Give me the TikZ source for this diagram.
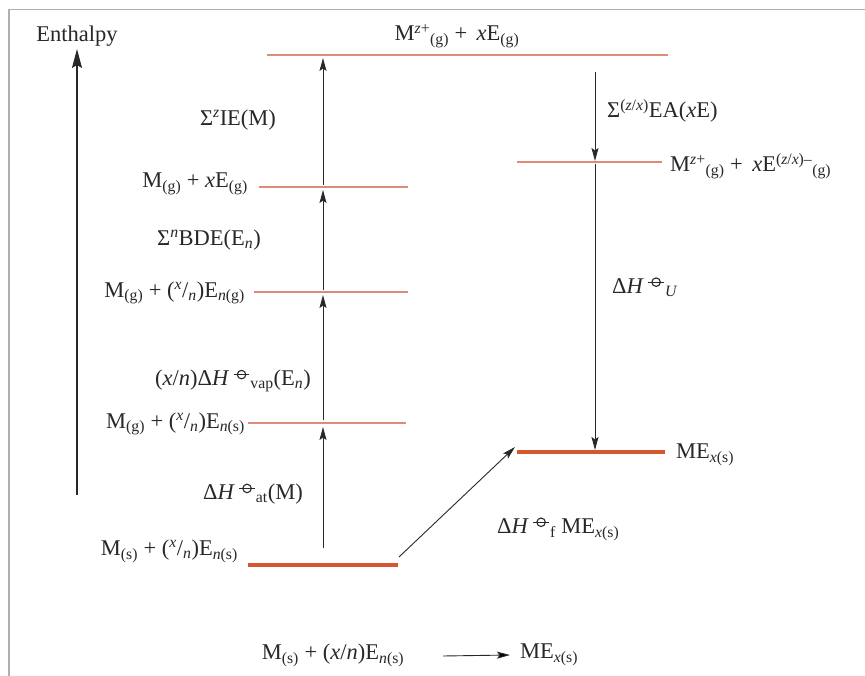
\documentclass[tikz,border=0pt]{standalone}
\usepackage{fontspec}
\setmainfont{Liberation Serif}
\usetikzlibrary{arrows.meta}
\definecolor{lvlthin}{RGB}{222,140,120}
\definecolor{lvlthick}{RGB}{214,86,48}
\definecolor{ink}{RGB}{40,40,40}
\definecolor{framegray}{RGB}{175,175,175}
\newcommand{\mysup}[1]{\textsuperscript{#1}}
\newcommand{\mysub}[1]{\textsubscript{#1}}
\newcommand{\plim}{\tikz[baseline=-0.5ex,line width=0.07em]{\draw (0,0) circle (0.27em); \draw (-0.5em,0)--(0.5em,0);}}
\tikzset{
  lbl/.style={text=ink, inner sep=1pt, font=\fontsize{22.5}{26}\selectfont},
  lvl/.style={draw=lvlthin, line width=1.4pt},
  lvlbar/.style={draw=lvlthick, line width=4.5pt},
  arr/.style={draw=ink, line width=0.9pt, -{Stealth[length=13pt,width=7pt,inset=2.5pt]}},
  bigarr/.style={draw=ink, line width=1.1pt, -{Stealth[length=19pt,width=10pt,inset=3pt]}}
}
\begin{document}
\begin{tikzpicture}[x=1pt,y=-1pt]
\useasboundingbox (0,0) rectangle (865,676);
\fill[white] (0,0) rectangle (865,676);
% frame
\draw[framegray, line width=1.5pt] (865,9.5) -- (9,9.5) -- (9,676);

% enthalpy axis
\node[lbl] (enth) at (77,36) {Enthalpy};
\coordinate (ax0) at (77,495);
\coordinate (ax1) at (77,49);
\draw[bigarr] (ax0) -- (ax1);

% levels
\coordinate (topL) at (267,55);   \coordinate (topR) at (668,55);
\coordinate (l2L) at (259,187);   \coordinate (l2R) at (408,187);
\coordinate (l3L) at (254,292);   \coordinate (l3R) at (408,292);
\coordinate (l4L) at (248,423);   \coordinate (l4R) at (406,423);
\coordinate (botL) at (248,565);  \coordinate (botR) at (398,565);
\coordinate (rgL) at (517,162);   \coordinate (rgR) at (662,162);
\coordinate (meL) at (517,452);   \coordinate (meR) at (665,452);

\draw[lvl] (topL) -- (topR);
\draw[lvl] (l2L) -- (l2R);
\draw[lvl] (l3L) -- (l3R);
\draw[lvl] (l4L) -- (l4R);
\draw[lvl] (rgL) -- (rgR);
\draw[lvlbar] (botL) -- (botR);
\draw[lvlbar] (meL) -- (meR);

% level labels
\node[lbl] (toplab) at (457,36) {M\mysup{\textit{z}+}\mysub{(g)} + \,\textit{x}E\mysub{(g)}};
\node[lbl, anchor=east] (l2lab) at (249,184) {M\mysub{(g)} + \textit{x}E\mysub{(g)}};
\node[lbl, anchor=east] (l3lab) at (246,293) {M\mysub{(g)} + (\mysup{\textit{x}}/\mysub{\textit{n}})E\mysub{\textit{n}(g)}};
\node[lbl, anchor=east] (l4lab) at (246,424) {M\mysub{(g)} + (\mysup{\textit{x}}/\mysub{\textit{n}})E\mysub{\textit{n}(s)}};
\node[lbl, anchor=east] (botlab) at (239,551) {M\mysub{(s)} + (\mysup{\textit{x}}/\mysub{\textit{n}})E\mysub{\textit{n}(s)}};
\node[lbl, anchor=west] (rglab) at (669,166) {M\mysup{\textit{z}+}\mysub{(g)} + \,\textit{x}E\mysup{(\textit{z}/\textit{x})–}\mysub{(g)}};
\node[lbl, anchor=west] (melab) at (675,455) {ME\mysub{\textit{x}(s)}};

% left chain arrows
\coordinate (a1s) at (323,548); \coordinate (a1e) at (323,427);
\coordinate (a2s) at (323,420); \coordinate (a2e) at (323,295);
\coordinate (a3s) at (323,290); \coordinate (a3e) at (323,190);
\coordinate (a4s) at (323,185); \coordinate (a4e) at (323,58);
\draw[arr] (a1s) -- (a1e);
\draw[arr] (a2s) -- (a2e);
\draw[arr] (a3s) -- (a3e);
\draw[arr] (a4s) -- (a4e);

% right chain arrows
\coordinate (a5s) at (595,72);  \coordinate (a5e) at (595,161);
\coordinate (a6s) at (595,164); \coordinate (a6e) at (595,450);
\draw[arr] (a5s) -- (a5e);
\draw[arr] (a6s) -- (a6e);

% formation arrow
\coordinate (fs) at (399,557); \coordinate (fe) at (515,447);
\draw[arr] (fs) -- (fe);

% arrow labels
\node[lbl] (ie) at (238,120) {Σ\mysup{\textit{z}}IE(M)};
\node[lbl] (bde) at (209,240) {Σ\mysup{\textit{n}}BDE(E\mysub{\textit{n}})};
\node[lbl] (vap) at (233,381) {(\textit{x}/\textit{n})Δ\textit{H}\,\mysup{\plim}\mysub{vap}(E\mysub{\textit{n}})};
\node[lbl] (at) at (253,494) {Δ\textit{H}\,\mysup{\plim}\mysub{at}(M)};
\node[lbl, anchor=west] (ea) at (606,111) {Σ\mysup{(\textit{z}/\textit{x})}EA(\textit{x}E)};
\node[lbl, anchor=west] (hu) at (611,287) {Δ\textit{H}\,\mysup{\plim}\mysub{\textit{U}}};
\node[lbl, anchor=west] (hf) at (496,529) {Δ\textit{H}\,\mysup{\plim}\mysub{f} ME\mysub{\textit{x}(s)}};

% overall reaction
\node[lbl] (r1) at (333,655) {M\mysub{(s)} + (\textit{x}/\textit{n})E\mysub{\textit{n}(s)}};
\node[lbl, anchor=west] (r2) at (519,655) {ME\mysub{\textit{x}(s)}};
\coordinate (rs) at (443,656);
\draw[arr] (rs) -- ([xshift=-9pt]r2.west);
\end{tikzpicture}
\end{document}
